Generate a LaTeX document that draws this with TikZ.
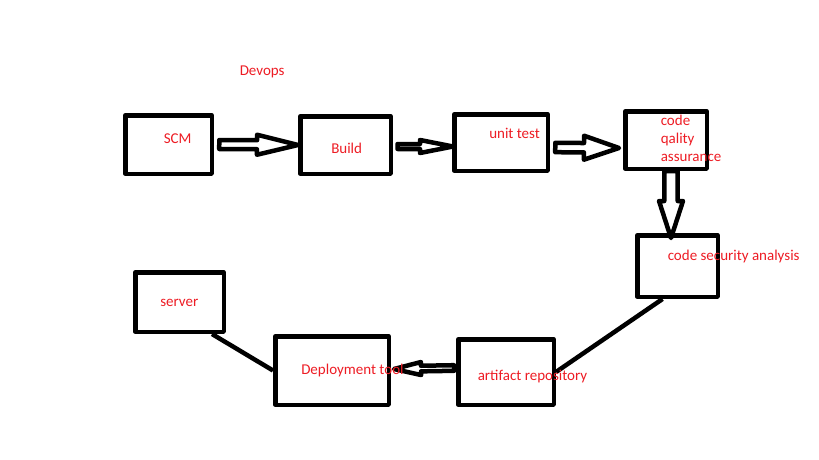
\documentclass[tikz,border=0pt]{standalone}
\usepackage{fontspec}
\setmainfont{Carlito}
\usetikzlibrary{calc}
\definecolor{paintred}{RGB}{237,28,36}
\tikzset{hollow/.style n args={3}{to path={
  ($(\tikztostart)!#1!90:(\tikztotarget)$)
  -- ($(\tikztotarget)!#3!(\tikztostart)!#1!90:(\tikztotarget)$)
  -- ($(\tikztotarget)!#3!(\tikztostart)!#2!90:(\tikztotarget)$)
  -- (\tikztotarget)
  -- ($(\tikztotarget)!#3!(\tikztostart)!#2!-90:(\tikztotarget)$)
  -- ($(\tikztotarget)!#3!(\tikztostart)!#1!-90:(\tikztotarget)$)
  -- ($(\tikztostart)!#1!-90:(\tikztotarget)$) -- cycle}}}
\begin{document}
\begin{tikzpicture}[x=1pt, y=-1pt, line width=4.5pt, line join=round]
	\tikzstyle{box}=[draw=black, inner sep=0pt]
	\tikzstyle{lbl}=[text=paintred, font=\fontsize{15}{18}\selectfont, inner sep=0pt, anchor=base west, align=left]
	\useasboundingbox (0,0) rectangle (819,460);
	% boxes
	\node[box, minimum width=86.5pt, minimum height=58.5pt]  (scm)      at (168.5,144.5) {};
	\node[box, minimum width=90.5pt, minimum height=57.5pt]  (build)    at (345.5,145)   {};
	\node[box, minimum width=93.5pt, minimum height=56.5pt]  (unit)     at (501,142.5)   {};
	\node[box, minimum width=81.5pt, minimum height=57.5pt]  (cqa)      at (666,140)     {};
	\node[box, minimum width=80.5pt, minimum height=61.5pt]  (csa)      at (677.5,266)   {};
	\node[box, minimum width=95.5pt, minimum height=65.5pt]  (artifact) at (506,372)     {};
	\node[box, minimum width=113.5pt, minimum height=68.5pt] (deploy)   at (332,370.5)   {};
	\node[box, minimum width=88.5pt, minimum height=59.5pt]  (server)   at (179.5,302)   {};
	% arrows
	\draw ([xshift=5.25pt]scm.east) to[hollow={4.5pt}{10pt}{41pt}] (build.west);
	\draw ([xshift=4.5pt,yshift=-1.5pt]build.east) to[hollow={2.5pt}{6.5pt}{33pt}] ([xshift=1pt,yshift=-4pt]unit.west);
	\draw ([xshift=5.25pt,yshift=-5pt]unit.east) to[hollow={4.7pt}{12pt}{35pt}] ([xshift=-4pt,yshift=-8pt]cqa.west);
	\draw ([xshift=5pt]cqa.south) to[hollow={6.7pt}{12pt}{37pt}] ([xshift=-6.5pt,yshift=-5pt]csa.north);
	\draw ([xshift=-2pt,yshift=4pt]artifact.west) to[hollow={2.8pt}{6.5pt}{27pt}] ([xshift=3pt,yshift=1.5pt]deploy.east);
	\draw ([xshift=-15pt]csa.south) -- (artifact.east);
	\draw ([xshift=-14pt]server.south east) -- (deploy.west);
	% labels
	\node[lbl] (title)  at (237.5,75)  {Devops};
	\node[lbl] (tscm)   at (161.5,143) {SCM};
	\node[lbl] (tbuild) at (329,153)   {Build};
	\node[lbl] (tunit)  at (487,138.3) {unit test};
	\node[lbl] (tcqa)   at (658.5,161) {code\\qality\\assurance};
	\node[lbl] (tcsa)   at (665.5,260.7) {code security analysis};
	\node[lbl] (tserver) at (158,306.7) {server};
	\node[lbl] (tdeploy) at (299,374) {Deployment tool};
	\node[lbl] (tart)   at (475.5,380) {artifact repository};
\end{tikzpicture}
\end{document}
